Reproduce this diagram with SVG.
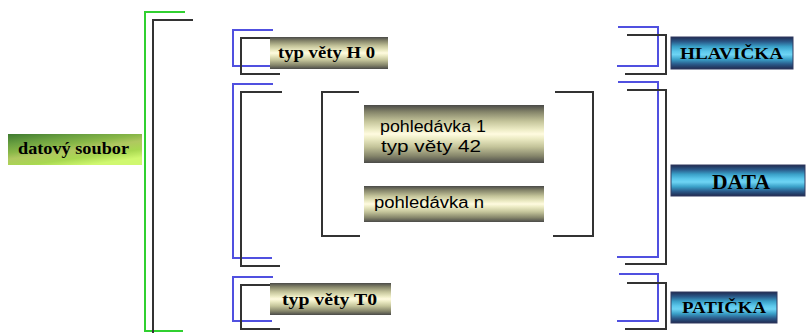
<svg xmlns="http://www.w3.org/2000/svg" width="809" height="333" viewBox="0 0 809 333">
<defs>
<linearGradient id="beige" x1="0" y1="0" x2="0" y2="1">
<stop offset="0" stop-color="#4a4a48"/>
<stop offset="0.12" stop-color="#85856a"/>
<stop offset="0.28" stop-color="#c4c49a"/>
<stop offset="0.42" stop-color="#ecebc4"/>
<stop offset="0.5" stop-color="#fffbe0"/>
<stop offset="0.58" stop-color="#ecebc4"/>
<stop offset="0.72" stop-color="#c4c49a"/>
<stop offset="0.88" stop-color="#85856a"/>
<stop offset="1" stop-color="#4a4a48"/>
</linearGradient>
<linearGradient id="blue" x1="0" y1="0" x2="0" y2="1">
<stop offset="0" stop-color="#202a50"/>
<stop offset="0.15" stop-color="#2a5a8a"/>
<stop offset="0.3" stop-color="#3aa0c8"/>
<stop offset="0.45" stop-color="#5cc8ec"/>
<stop offset="0.55" stop-color="#6ed4f4"/>
<stop offset="0.7" stop-color="#3aa0c8"/>
<stop offset="0.85" stop-color="#2a5a8a"/>
<stop offset="1" stop-color="#202a50"/>
</linearGradient>
<linearGradient id="green" x1="0" y1="0" x2="0.6" y2="1">
<stop offset="0" stop-color="#3e7a30"/>
<stop offset="0.25" stop-color="#6aa040"/>
<stop offset="0.45" stop-color="#8ab848"/>
<stop offset="0.6" stop-color="#b0c860"/>
<stop offset="0.8" stop-color="#a8d850"/>
<stop offset="1" stop-color="#d0f870"/>
</linearGradient>
</defs>
<style>
.blk{fill:none;stroke:#333;stroke-width:2}
.blu{fill:none;stroke:#5050e0;stroke-width:2}
.grn{fill:none;stroke:#30d030;stroke-width:2}
.bx{fill:url(#beige)}
.bb{fill:url(#blue);stroke:#303a60;stroke-width:1}
.lbl{font-family:"Liberation Serif",serif;font-weight:bold;fill:#000}
.sans{font-family:"Liberation Sans",sans-serif;font-size:16px;fill:#000}
</style>
<g id="connectors">
<path class="grn" d="M185,12 H145 V331 H183"/>
<path class="blk" d="M193,20 H153 V333"/>
<path class="blu" d="M273,30 H233 V66 H272"/>
<path class="blk" d="M270,38 H241 V74 H280"/>
<path class="blu" d="M273,84 H233 V258 H272"/>
<path class="blk" d="M282,92 H241 V266 H280"/>
<path class="blu" d="M273,277 H233 V321 H272"/>
<path class="blk" d="M270,285 H241 V329 H280"/>
<path class="blk" d="M359,92 H322 V236 H360"/>
<path class="blk" d="M555,92 H593 V236 H553"/>
<path class="blu" d="M618,27 H658 V66 H617"/>
<path class="blk" d="M627,35 H666 V74 H625"/>
<path class="blu" d="M618,82 H658 V257 H617"/>
<path class="blk" d="M627,90 H666 V264 H625"/>
<path class="blu" d="M619,274 H658 V321 H617"/>
<path class="blk" d="M627,283 H666 V329 H625"/>
</g>
<g id="datovy-soubor">
<rect x="8" y="134" width="134" height="31" fill="url(#green)"/>
<text class="lbl" x="18" y="154" font-size="16" textLength="111" lengthAdjust="spacingAndGlyphs">datový soubor</text>
</g>
<g id="typ-vety-h0">
<rect class="bx" x="270" y="37" width="118" height="32"/>
<text class="lbl" x="278" y="58" font-size="17" textLength="97" lengthAdjust="spacingAndGlyphs">typ věty H 0</text>
</g>
<g id="pohledavka-1">
<rect class="bx" x="364" y="105" width="180" height="58"/>
<text class="sans" x="380" y="132" textLength="106" lengthAdjust="spacingAndGlyphs">pohledávka 1</text>
<text class="sans" x="381" y="152" textLength="100" lengthAdjust="spacingAndGlyphs">typ věty 42</text>
</g>
<g id="pohledavka-n">
<rect class="bx" x="364" y="186" width="180" height="36"/>
<text class="sans" x="374" y="208" textLength="110" lengthAdjust="spacingAndGlyphs">pohledávka n</text>
</g>
<g id="typ-vety-t0">
<rect class="bx" x="270" y="283" width="121" height="32"/>
<text class="lbl" x="282" y="305" font-size="17" textLength="95" lengthAdjust="spacingAndGlyphs">typ věty T0</text>
</g>
<g id="hlavicka">
<rect class="bb" x="671" y="37" width="122" height="32"/>
<text class="lbl" x="680" y="59" font-size="16" textLength="103" lengthAdjust="spacingAndGlyphs">HLAVIČKA</text>
</g>
<g id="data">
<rect class="bb" x="671" y="165" width="134" height="31"/>
<text class="lbl" x="712" y="189" font-size="20" textLength="58" lengthAdjust="spacingAndGlyphs">DATA</text>
</g>
<g id="paticka">
<rect class="bb" x="671" y="292" width="106" height="31"/>
<text class="lbl" x="682" y="313" font-size="16" textLength="84" lengthAdjust="spacingAndGlyphs">PATIČKA</text>
</g>
</svg>
